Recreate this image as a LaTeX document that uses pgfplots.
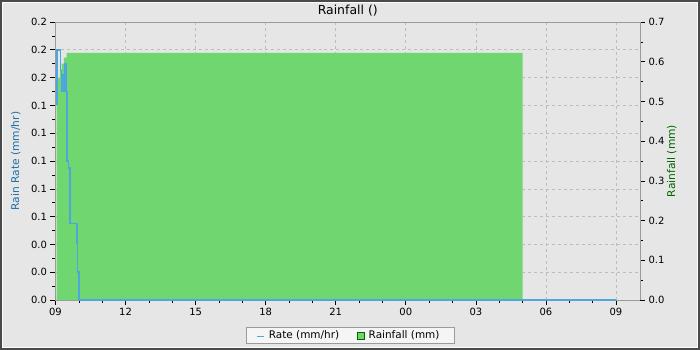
\documentclass[border=0pt]{standalone}
\usepackage{fontspec}
\setmainfont{DejaVu Sans}
\usepackage{pgfplots}
\pgfplotsset{compat=1.18}
\definecolor{bgc}{HTML}{E6E6E6}
\definecolor{bordc}{HTML}{4A4A4A}
\definecolor{gridc}{HTML}{BDBDBD}
\definecolor{axc}{HTML}{9A9A9A}
\definecolor{greenc}{HTML}{70D670}
\definecolor{bluec}{HTML}{4DA6DE}
\definecolor{bluelab}{HTML}{1F6FA8}
\definecolor{greenlab}{HTML}{006400}
\pgfplotsset{
  base/.style={
    scale only axis, width=584.5bp, height=278bp,
    xmin=0, xmax=25.03,
    axis line style={axc},
    tick style={black, line width=0.6bp},
    tick align=outside,
    major tick length=5bp, minor tick length=3bp,
    tick label style={font=\fontsize{10}{12}\selectfont},
    /pgf/number format/assume math mode=true,
  },
  shortline/.style={legend image code/.code={\draw[##1, line width=1.2bp] (0bp,-1bp) -- (7bp,-1bp);}},
  greensq/.style={legend image code/.code={\draw[fill=greenc, draw=green!40!black, line width=0.5bp] (0bp,-4bp) rectangle (7bp,3bp);}},
}
\begin{document}
\begin{tikzpicture}
\fill[bgc] (-55.5bp,-50bp) rectangle (644.5bp,300bp);
\useasboundingbox (-55.5bp,-50bp) rectangle (644.5bp,300bp);
\draw[white!90!bgc, line width=1bp] (-53bp,-47.5bp) rectangle (642bp,297.5bp);
% axis 1: left axis, grid, x ticks
\begin{axis}[base,
  ymin=0, ymax=0.2,
  ytick={0,0.02,0.04,0.06,0.08,0.10,0.12,0.14,0.16,0.18,0.20},
  minor y tick num=1,
  xtick={0,3,6,9,12,15,18,21,24},
  xticklabels={09,12,15,18,21,00,03,06,09},
  minor x tick num=2,
  xtick pos=lower, ytick pos=left,
  yticklabel style={/pgf/number format/fixed, /pgf/number format/fixed zerofill, /pgf/number format/precision=1},
  grid=major, major grid style={dashed, gridc, line width=0.6bp},
  ylabel={Rain Rate (mm/hr)},
  ylabel style={at={(axis description cs:-0.068,0.5)}, anchor=center, text=bluelab, font=\fontsize{10.7}{12}\selectfont},
  title={Rainfall ()},
  title style={at={(axis description cs:0.5,1)}, anchor=base, yshift=1.5bp, inner sep=0pt, font=\fontsize{12.5}{14}\selectfont},
]
\addplot[draw=none] coordinates {(0,0)};
\end{axis}
% axis 2: right axis, rainfall area
\begin{axis}[base,
  ymin=0, ymax=0.7,
  axis y line*=right, axis x line=none,
  ytick={0,0.1,0.2,0.3,0.4,0.5,0.6,0.7},
  minor y tick num=1,
  yticklabel style={/pgf/number format/fixed, /pgf/number format/fixed zerofill, /pgf/number format/precision=1},
  ylabel={Rainfall (mm)},
  ylabel style={at={(axis description cs:1.0545,0.5)}, anchor=center, rotate=0, text=greenlab, font=\fontsize{10.7}{12}\selectfont},
]
\addplot[fill=greenc, draw=none] coordinates {
(0.05,0) (0.05,0.56) (0.19,0.56) (0.19,0.58) (0.26,0.58) (0.26,0.595)
(0.36,0.595) (0.36,0.61) (0.48,0.61) (0.48,0.622) (20.0,0.622) (20.0,0)
} -- cycle;
\end{axis}
% axis 3: rate line + legend
\begin{axis}[base, hide axis,
  ymin=0, ymax=0.2,
  legend columns=2,
  legend style={at={(0.504,-0.097)}, anchor=north, draw=axc, fill=white!60!bgc,
    font=\fontsize{10.5}{12}\selectfont, inner xsep=10.5bp, inner ysep=1.5bp,
    nodes={inner xsep=4bp, inner ysep=2bp},
    /tikz/every even column/.append style={column sep=14bp}},
]
\addplot[bluec, line width=1.6bp, shortline] coordinates {
(0.06,0.14) (0.06,0.18) (0.22,0.18) (0.22,0.165) (0.26,0.165) (0.26,0.15)
(0.30,0.15) (0.30,0.162) (0.34,0.162) (0.34,0.15) (0.38,0.15) (0.38,0.170)
(0.45,0.170) (0.45,0.15) (0.48,0.15) (0.48,0.10) (0.56,0.10) (0.56,0.095)
(0.62,0.095) (0.62,0.055) (0.91,0.055) (0.91,0.041) (0.95,0.041) (0.95,0.020)
(1.0,0.020) (1.0,0) (24,0)
};
\addlegendentry{Rate (mm/hr)}
\addlegendimage{greensq}
\addlegendentry{Rainfall (mm)}
\end{axis}
\draw[bordc, line width=2bp] (-54.5bp,-49bp) rectangle (643.5bp,299bp);
\end{tikzpicture}
\end{document}
